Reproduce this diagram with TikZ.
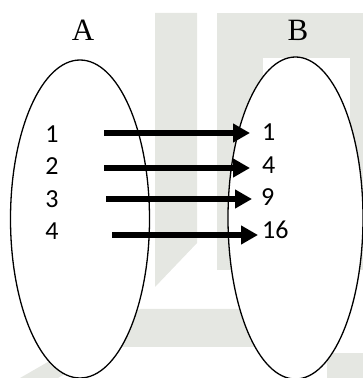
\documentclass[tikz,border=0pt]{standalone}
\usepackage{fontspec}
\setmainfont{Liberation Serif}
\newfontfamily\digitfont{Carlito}
\usetikzlibrary{arrows.meta,shapes.geometric}

\definecolor{logogray}{RGB}{229,231,226}

\begin{document}
\begin{tikzpicture}[
    x=1pt,y=1pt,
    setoval/.style={draw,ellipse,fill=white,line width=1.3pt,inner sep=0pt},
    setname/.style={inner sep=0pt,font=\fontsize{31}{31}\selectfont},
    elem/.style={inner sep=0pt,font=\digitfont\fontsize{26}{26}\selectfont},
    maparrow/.style={-{Triangle[length=17pt,width=18pt]},line width=6.5pt}
  ]
    \useasboundingbox (0,0) rectangle (363,378);

    % faint logo in the background
    \fill[logogray] (155,365) -- (197,365) -- (197,135) -- (155,91) -- cycle;
    \fill[logogray] (217,365) rectangle (363,320);
    \fill[logogray] (217,320) rectangle (263,108);
    \fill[logogray] (350,320) rectangle (363,108);
    \fill[logogray] (20,0) -- (140,69) -- (300,69) -- (300,31) -- (112,31) -- (58,0) -- cycle;
    \fill[logogray] (327,0) rectangle (363,25);

    % the two sets
    \node[setoval,minimum width=139pt,minimum height=318pt] (setA) at (80,159) {};
    \node[setoval,minimum width=135pt,minimum height=322pt] (setB) at (295.5,160) {};
    \node[setname] (nameA) at (83,348) {A};
    \node[setname] (nameB) at (298,348) {B};

    % elements
    \node[elem] (a1) at (52,243.5) {1};
    \node[elem] (a2) at (52,212) {2};
    \node[elem] (a3) at (52,178.5) {3};
    \node[elem] (a4) at (52,147) {4};
    \node[elem,anchor=west] (b1) at (262,246) {1};
    \node[elem,anchor=west] (b2) at (262,213) {4};
    \node[elem,anchor=west] (b3) at (261,181) {9};
    \node[elem,anchor=west] (b4) at (262,148.5) {16};

    % x -> x^2
    \foreach \i/\sx/\y/\gap in {1/104/245/12, 2/104/210/12, 3/106/179/9, 4/112/143/4} {
      \coordinate (s\i) at (\sx,\y);
      \draw[maparrow,shorten >=\gap pt] (s\i) -- (s\i -| b\i.west);
    }
\end{tikzpicture}
\end{document}
